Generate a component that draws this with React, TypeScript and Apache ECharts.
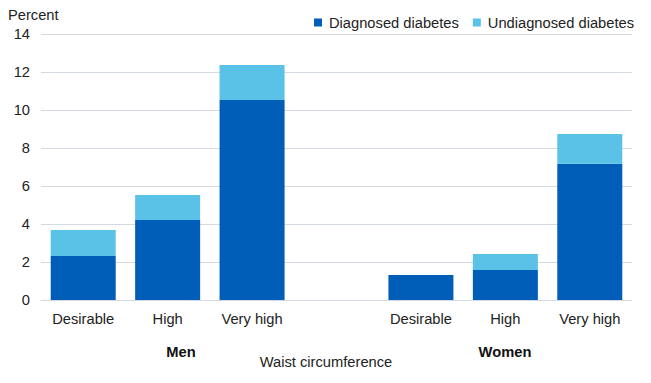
import React, { useEffect, useRef } from "react";
import * as echarts from "echarts";

// Waist circumference groups: men's three bars, a spacer slot, women's three bars
const categories = ["Desirable", "High", "Very high", "", "Desirable", "High", "Very high"];
const diagnosed = [2.32, 4.21, 10.53, null, 1.32, 1.58, 7.17];
const undiagnosed = [1.36, 1.32, 1.84, null, 0, 0.84, 1.57];
const yTicks = { min: 0, max: 14, interval: 2 };
const groupLabels = ["Men", "Women"];

const FONT = "Liberation Sans, Arial, sans-serif";
const FS = 14.7;

export default function App() {
  const ref = useRef<HTMLDivElement>(null);

  useEffect(() => {
    if (!ref.current) return;
    const chart = echarts.init(ref.current, null, { renderer: "svg" });
    chart.setOption({
      animation: false,
      textStyle: { fontFamily: FONT },
      grid: { left: 41, right: 19, top: 34, bottom: 83, containLabel: false },
      legend: {
        top: 10,
        right: 12,
        itemWidth: 8,
        itemHeight: 8,
        itemGap: 14,
        icon: "rect",
        textStyle: { fontSize: FS, color: "#222", fontFamily: FONT, padding: [0, 0, 0, 2] },
        data: ["Diagnosed diabetes", "Undiagnosed diabetes"],
      },
      xAxis: {
        type: "category",
        data: categories,
        axisLine: { show: true, lineStyle: { color: "#d3d9e0", width: 1 } },
        axisTick: { show: false },
        axisLabel: { fontSize: FS, color: "#222", margin: 11, interval: 0 },
      },
      yAxis: {
        type: "value",
        min: yTicks.min,
        max: yTicks.max,
        interval: yTicks.interval,
        axisLine: { show: false },
        axisTick: { show: false },
        axisLabel: { fontSize: FS, color: "#222", margin: 11 },
        splitLine: { lineStyle: { color: "#d3d9e0", width: 1 } },
      },
      series: [
        {
          name: "Diagnosed diabetes",
          type: "bar",
          stack: "total",
          barWidth: 65,
          itemStyle: { color: "#005EB8" },
          data: diagnosed,
        },
        {
          name: "Undiagnosed diabetes",
          type: "bar",
          stack: "total",
          barWidth: 65,
          itemStyle: { color: "#5BC2E7" },
          data: undiagnosed,
        },
      ],
      graphic: [
        {
          type: "text",
          left: 8,
          top: 7,
          style: { text: "Percent", fill: "#222", font: `${FS}px ${FONT}` },
        },
        {
          type: "text",
          x: 181,
          y: 352,
          style: {
            text: groupLabels[0],
            font: `bold ${FS}px ${FONT}`,
            fill: "#111",
            align: "center",
            verticalAlign: "middle",
          },
        },
        {
          type: "text",
          x: 505,
          y: 352,
          style: {
            text: groupLabels[1],
            font: `bold ${FS}px ${FONT}`,
            fill: "#111",
            align: "center",
            verticalAlign: "middle",
          },
        },
        {
          type: "text",
          x: 326,
          y: 362,
          style: {
            text: "Waist circumference",
            font: `${FS}px ${FONT}`,
            fill: "#222",
            align: "center",
            verticalAlign: "middle",
          },
        },
      ],
    });
    return () => chart.dispose();
  }, []);

  return <div ref={ref} style={{ width: 651, height: 383, margin: -8, background: "#fff" }} />;
}
